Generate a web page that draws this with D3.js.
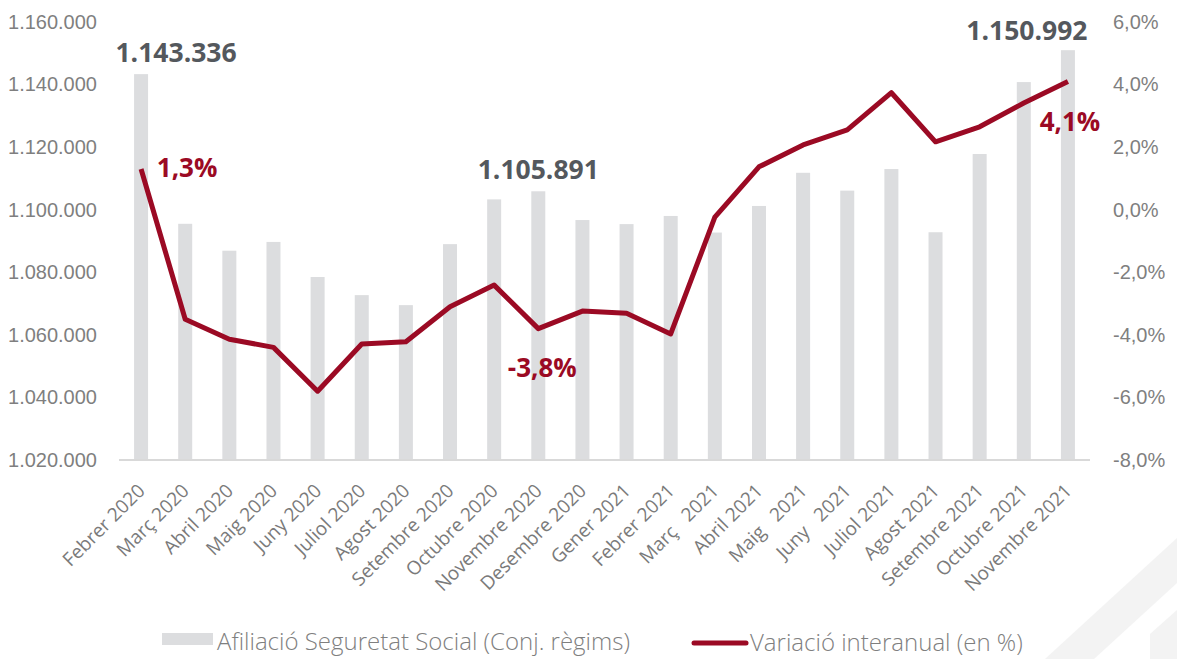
<!DOCTYPE html>
<html>
<head>
<meta charset="utf-8">
<script src="https://cdn.jsdelivr.net/npm/d3@7"></script>
<style>
  body { margin: 0; background: #fff; }
  svg { display: block; font-family: "Open Sans", "Noto Sans", sans-serif; }
  .tick-label { fill: #7f7f7f; font-size: 20px; font-weight: 300; }
  .x-label { fill: #7a7a7a; font-size: 19px; font-weight: 400; }
  .legend-label { fill: #7f7f7f; font-size: 24px; font-weight: 300; }
</style>
</head>
<body>
<div id="chart"></div>
<script>
// data
const months = [
  "Febrer 2020", "Març 2020", "Abril 2020", "Maig 2020", "Juny 2020", "Juliol 2020",
  "Agost 2020", "Setembre 2020", "Octubre 2020", "Novembre 2020", "Desembre 2020",
  "Gener 2021", "Febrer 2021", "Març   2021", "Abril 2021", "Maig   2021", "Juny   2021",
  "Juliol 2021", "Agost 2021", "Setembre 2021", "Octubre 2021", "Novembre 2021"
];
const afiliacio = [
  1143336, 1095500, 1086900, 1089700, 1078500, 1072700, 1069500, 1089000,
  1103300, 1105891, 1096700, 1095400, 1098000, 1092700, 1101200, 1111800,
  1106100, 1113000, 1092800, 1117800, 1140800, 1150992
];
const variacio = [
  1.3, -3.5, -4.14, -4.4, -5.8, -4.29, -4.22, -3.1, -2.41, -3.8, -3.24,
  -3.31, -3.97, -0.24, 1.37, 2.07, 2.55, 3.74, 2.17, 2.65, 3.41, 4.1
];
const leftTicks = [1020000, 1040000, 1060000, 1080000, 1100000, 1120000, 1140000, 1160000];
const rightTicks = [-8, -6, -4, -2, 0, 2, 4, 6];
const seriesNames = ["Afiliació Seguretat Social (Conj. règims)", "Variació interanual (en %)"];

// which points get a value label
const barNotes = [0, 9, 21];
const lineNotes = [0, 9, 21];

// dimensions
const W = 1177, H = 659;
const LEFT = 119, RIGHT = 1090, TOP = 22, BOTTOM = 460;
const RED = "#9b0a24";
const GREY = "#dcdddf";

const loc = d3.formatLocale({ decimal: ",", thousands: ".", grouping: [3], currency: ["", "€"], minus: "-" });
const fmtInt = loc.format(",d");
const fmtPct = d => loc.format(".1f")(d) + "%";

const svg = d3.select("#chart").append("svg")
  .attr("width", W).attr("height", H);

// faint watermark, bottom right
const $mark = svg.append("g").attr("fill", "#f3f3f3");
$mark.append("path").attr("d", "M1045,659 L1177,538 L1177,583 L1094,659 Z");
$mark.append("path").attr("d", "M1150,634 L1177,610 L1177,659 L1150,659 Z");

// scales
const x = d3.scaleBand().domain(months).range([LEFT, RIGHT]).padding(0);
const yL = d3.scaleLinear().domain([1020000, 1160000]).range([BOTTOM, TOP]);
const yR = d3.scaleLinear().domain([-8, 6]).range([BOTTOM, TOP]);
const cx = (d, i) => x(months[i]) + x.bandwidth() / 2;

// left axis
const axL = svg.append("g")
  .attr("transform", `translate(${LEFT - 22},0)`)
  .call(d3.axisLeft(yL).tickValues(leftTicks).tickFormat(fmtInt).tickSize(0).tickPadding(0));
axL.select(".domain").remove();
axL.selectAll("text").attr("class", "tick-label").attr("font-family", null).attr("font-size", null).attr("fill", null);

// right axis
const axR = svg.append("g")
  .attr("transform", `translate(${RIGHT + 23},0)`)
  .call(d3.axisRight(yR).tickValues(rightTicks).tickFormat(fmtPct).tickSize(0).tickPadding(0));
axR.select(".domain").remove();
axR.selectAll("text").attr("class", "tick-label").attr("font-family", null).attr("font-size", null).attr("fill", null);

// bars
const bw = 14;
svg.append("g").selectAll("rect")
  .data(afiliacio)
  .join("rect")
  .attr("x", (d, i) => cx(d, i) - bw / 2)
  .attr("y", d => yL(d))
  .attr("width", bw)
  .attr("height", d => BOTTOM - yL(d))
  .attr("fill", GREY);

// baseline
svg.append("line")
  .attr("x1", LEFT).attr("x2", RIGHT)
  .attr("y1", BOTTOM).attr("y2", BOTTOM)
  .attr("stroke", "#d9d9d9").attr("stroke-width", 2);

// x labels
svg.append("g").selectAll("text")
  .data(months)
  .join("text")
  .attr("class", "x-label")
  .attr("text-anchor", "end")
  .attr("transform", (d, i) => `translate(${cx(d, i) + 5},${BOTTOM + 32}) rotate(-45)`)
  .attr("xml:space", "preserve")
  .style("white-space", "pre")
  .text(d => d);

// line
const line = d3.line()
  .x((d, i) => cx(d, i))
  .y(d => yR(d));
svg.append("path")
  .datum(variacio)
  .attr("d", line)
  .attr("fill", "none")
  .attr("stroke", RED)
  .attr("stroke-width", 5)
  .attr("stroke-linejoin", "round");

// value labels
const barOff = { 0: [35, -22], 9: [0, -22], 21: [-41, -20] };
svg.append("g").selectAll("text")
  .data(barNotes)
  .join("text")
  .attr("x", i => cx(null, i) + barOff[i][0])
  .attr("y", i => yL(afiliacio[i]) + barOff[i][1])
  .attr("text-anchor", "middle")
  .attr("dominant-baseline", "central")
  .attr("font-size", 26.5).attr("font-weight", 700)
  .attr("fill", "#54585d")
  .text(i => fmtInt(afiliacio[i]));

const lineOff = { 0: [46, -2], 9: [4, 38], 21: [2, 40] };
svg.append("g").selectAll("text")
  .data(lineNotes)
  .join("text")
  .attr("x", i => cx(null, i) + lineOff[i][0])
  .attr("y", i => yR(variacio[i]) + lineOff[i][1])
  .attr("text-anchor", "middle")
  .attr("dominant-baseline", "central")
  .attr("font-size", 26).attr("font-weight", 700)
  .attr("fill", RED)
  .text(i => fmtPct(variacio[i]));

// legend
const lg = svg.append("g");
lg.append("rect").attr("x", 162).attr("y", 633).attr("width", 51).attr("height", 12).attr("fill", GREY);
lg.append("text").attr("class", "legend-label").attr("x", 217).attr("y", 640)
  .attr("dominant-baseline", "central").text(seriesNames[0]);
lg.append("line").attr("x1", 694).attr("x2", 746).attr("y1", 643).attr("y2", 643)
  .attr("stroke", RED).attr("stroke-width", 5).attr("stroke-linecap", "round");
lg.append("text").attr("class", "legend-label").attr("x", 750).attr("y", 641)
  .attr("dominant-baseline", "central").text(seriesNames[1]);
</script>
</body>
</html>
